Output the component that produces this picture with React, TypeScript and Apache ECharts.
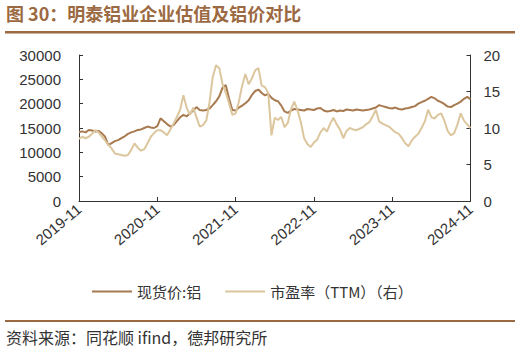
import React, { useEffect, useRef } from "react";
import * as echarts from "echarts";

// Semi-monthly observations from 2019-11 to 2024-11 (121 points)
const startYear = 2019;
const startMonth = 11;
const dates: string[] = [];
for (let i = 0; i < 121; i++) {
  const m0 = startMonth - 1 + Math.floor(i / 2);
  const y = startYear + Math.floor(m0 / 12);
  const m = (m0 % 12) + 1;
  const d = i % 2 === 0 ? "01" : "16";
  dates.push(`${y}-${String(m).padStart(2, "0")}-${d}`);
}

const priceAl: number[] = [
  14200, 14300, 14100, 14600, 14500, 14300, 14400, 13900, 13200, 11500,
  11900, 12300, 12500, 12900, 13300, 13800, 14100, 14300, 14600, 14700,
  15000, 15300, 15100, 15000, 15400, 17000, 16400, 15800, 15300, 15600,
  16400, 17200, 17700, 17400, 18000, 18600, 19300, 18700, 18600, 18700,
  19000, 19700, 20500, 21500, 23300, 23800, 21000, 18700, 18600, 19200,
  19600, 20100, 20700, 21800, 22600, 22900, 22200, 21700, 22000, 21200,
  20700, 20500, 19600, 18400, 18100, 18600, 18900, 18800, 18700, 18600,
  18900, 18800, 18700, 19000, 19100, 18600, 18400, 18500, 18700, 18400,
  18600, 18500, 18800, 18700, 18600, 18800, 18700, 18600, 18700, 18800,
  19000, 19200, 19700, 19500, 19300, 19100, 19000, 19200, 18900, 18800,
  19000, 19100, 19300, 19500, 20000, 20300, 20600, 21000, 21400, 21100,
  20600, 20300, 19900, 19400, 19300, 19700, 20000, 20400, 21000, 21400,
  20900,
];

const peTTM: number[] = [
  8.5, 8.8, 8.6, 8.8, 9.2, 9.7, 9.4, 8.8, 8.3, 7.7,
  7.2, 6.5, 6.4, 6.3, 6.2, 6.3, 7.0, 7.9, 7.3, 6.9,
  7.1, 7.9, 8.8, 9.3, 9.7, 9.7, 9.4, 9.0, 9.8, 10.6,
  11.5, 12.5, 14.5, 12.8, 11.8, 12.8, 11.5, 10.2, 10.4, 11.0,
  13.5, 17.0, 18.6, 18.2, 16.0, 14.8, 13.4, 11.8, 12.0, 13.6,
  15.8, 17.4, 16.0, 16.8, 17.9, 18.2, 15.8, 15.6, 14.8, 9.0,
  11.4, 11.1, 11.5, 10.1, 10.7, 12.6, 13.6, 12.4, 10.8, 8.6,
  7.8, 7.4, 8.0, 8.4, 9.4, 10.0, 9.5, 10.6, 11.4, 10.5,
  9.8, 8.6, 9.6, 10.0, 9.8, 9.7, 9.9, 10.1, 10.5, 10.8,
  11.6, 12.5, 10.9, 10.6, 10.4, 10.2, 9.8, 9.4, 9.2, 8.6,
  7.9, 7.5, 8.3, 8.8, 9.2, 10.0, 10.9, 12.5, 11.5, 11.3,
  11.8, 12.0, 11.0, 9.6, 9.0, 9.3, 10.5, 12.0, 11.0, 10.5,
  10.0,
];

const seriesNames = ["现货价:铝", "市盈率（TTM）（右）"];
const titleText = "图 30：明泰铝业企业估值及铝价对比";
const sourceText = "资料来源：同花顺 ifind，德邦研究所";

const BROWN = "#a87a50";
const TAN = "#dcc69e";
const RULE = "#9c6a42";
const AXIS = "#333333";
const LABEL = "#333333";

export default function App() {
  const ref = useRef<HTMLDivElement>(null);
  useEffect(() => {
    if (!ref.current) return;
    const chart = echarts.init(ref.current, null, { renderer: "svg" });
    const axisCommon = {
      axisLine: { show: true, lineStyle: { color: AXIS, width: 1 } },
      axisTick: { show: true, inside: true, length: 4, lineStyle: { color: AXIS } },
      splitLine: { show: false },
    };
    chart.setOption({
      animation: false,
      backgroundColor: "#ffffff",
      grid: { left: 79, right: 49.5, top: 55, bottom: 160, containLabel: false },
      legend: {
        left: 92,
        top: 284,
        padding: 0,
        itemGap: 24,
        itemWidth: 40,
        itemHeight: 2,
        icon: "rect",
        data: seriesNames,
        textStyle: { fontSize: 15, color: LABEL, fontFamily: "Noto Sans CJK SC" },
      },
      xAxis: {
        type: "category",
        data: dates,
        boundaryGap: false,
        ...axisCommon,
        axisTick: { show: true, inside: true, length: 4, interval: 23, lineStyle: { color: AXIS } },
        axisLabel: {
          interval: 23,
          rotate: 40,
          fontSize: 15,
          color: LABEL,
          margin: 6,
          fontFamily: "Liberation Sans",
          formatter: (v: string) => v.slice(0, 7),
        },
      },
      yAxis: [
        {
          type: "value",
          min: 0,
          max: 30000,
          interval: 5000,
          ...axisCommon,
          axisLabel: {
            fontSize: 15,
            color: LABEL,
            margin: 18,
            fontFamily: "Liberation Sans",
            formatter: (v: number) => String(v),
          },
        },
        {
          type: "value",
          min: 0,
          max: 20,
          interval: 5,
          position: "right",
          ...axisCommon,
          axisLabel: {
            fontSize: 15,
            color: LABEL,
            margin: 13,
            fontFamily: "Liberation Sans",
            formatter: (v: number) => String(v),
          },
        },
      ],
      series: [
        {
          name: seriesNames[0],
          type: "line",
          data: priceAl,
          yAxisIndex: 0,
          showSymbol: false,
          symbol: "none",
          lineStyle: { color: BROWN, width: 2 },
          itemStyle: { color: BROWN },
        },
        {
          name: seriesNames[1],
          type: "line",
          data: peTTM,
          yAxisIndex: 1,
          showSymbol: false,
          symbol: "none",
          lineStyle: { color: TAN, width: 2 },
          itemStyle: { color: TAN },
        },
      ],
      graphic: [
        {
          type: "text",
          left: 6,
          top: 4,
          style: {
            text: titleText,
            font: 'bold 18px "Noto Sans CJK SC"',
            fill: "#9c6a42",
          },
        },
        { type: "rect", shape: { x: 5, y: 31, width: 510, height: 2.5 }, style: { fill: RULE } },
        { type: "rect", shape: { x: 5, y: 320, width: 510, height: 2 }, style: { fill: RULE } },
        {
          type: "text",
          left: 6,
          top: 329,
          style: {
            text: sourceText,
            font: '16px "Noto Sans CJK SC"',
            fill: "#333333",
          },
        },
      ],
    });
    return () => chart.dispose();
  }, []);
  return <div ref={ref} style={{ width: 520, height: 361, position: "fixed", left: 0, top: 0 }} />;
}
